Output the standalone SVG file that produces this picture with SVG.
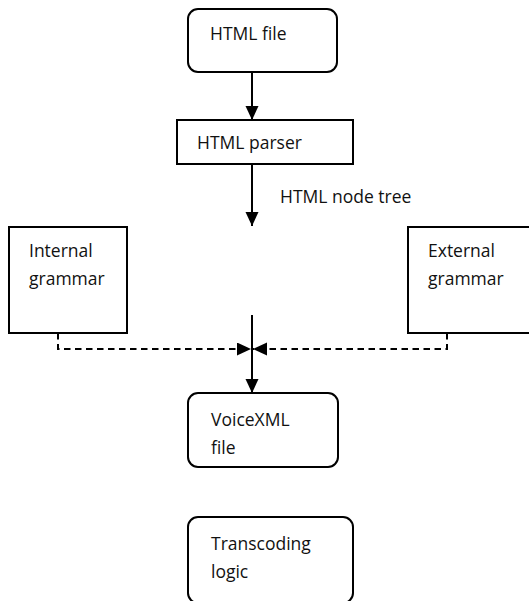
<svg xmlns="http://www.w3.org/2000/svg" width="529" height="601" viewBox="0 0 529 601">
  <style>
    .box { fill: #ffffff; stroke: #000000; stroke-width: 2; }
    .lbl { font-family: "Open Sans", "DejaVu Sans", sans-serif; font-size: 17.5px; fill: #111111; }
    .flow { fill: none; stroke: #000000; stroke-width: 2; }
    .dash { fill: none; stroke: #000000; stroke-width: 2; stroke-dasharray: 6.5 4.5; }
  </style>
  <defs>
    <marker id="head" markerUnits="userSpaceOnUse" markerWidth="15" markerHeight="14" refX="14" refY="6.5" orient="auto">
      <path d="M0,0 L14,6.5 L0,13 Z" fill="#000000" stroke="none"/>
    </marker>
  </defs>
  <rect width="529" height="601" fill="#ffffff"/>

  <g id="connectors">
    <path class="flow" d="M252,72 V120" marker-end="url(#head)"/>
    <path class="flow" d="M252,164 V226" marker-end="url(#head)"/>
    <path class="flow" d="M252,315 V393" marker-end="url(#head)"/>
    <path class="dash" d="M58,333 V349 H251" marker-end="url(#head)"/>
    <path class="dash" d="M447,333 V349 H253" marker-end="url(#head)"/>
  </g>

  <g id="html-file">
    <rect class="box" x="188" y="9" width="149" height="63" rx="10"/>
    <text class="lbl" x="210" y="40">HTML file</text>
  </g>

  <g id="html-parser">
    <rect class="box" x="177" y="120" width="176" height="44"/>
    <text class="lbl" x="197" y="149">HTML parser</text>
  </g>

  <g id="node-tree-label">
    <text class="lbl" x="280" y="203">HTML node tree</text>
  </g>

  <g id="internal-grammar">
    <rect class="box" x="9" y="227" width="118" height="106"/>
    <text class="lbl" x="29" y="257">Internal</text>
    <text class="lbl" x="29" y="284.5">grammar</text>
  </g>

  <g id="external-grammar">
    <rect class="box" x="408" y="227" width="130" height="106"/>
    <text class="lbl" x="428" y="257">External</text>
    <text class="lbl" x="428" y="284.5">grammar</text>
  </g>

  <g id="voicexml-file">
    <rect class="box" x="188" y="393" width="150" height="74" rx="10"/>
    <text class="lbl" x="211" y="426">VoiceXML</text>
    <text class="lbl" x="211" y="453.5">file</text>
  </g>

  <g id="transcoding-logic">
    <rect class="box" x="188" y="517" width="165" height="86" rx="10"/>
    <text class="lbl" x="211" y="550">Transcoding</text>
    <text class="lbl" x="211" y="577.5">logic</text>
  </g>
</svg>
